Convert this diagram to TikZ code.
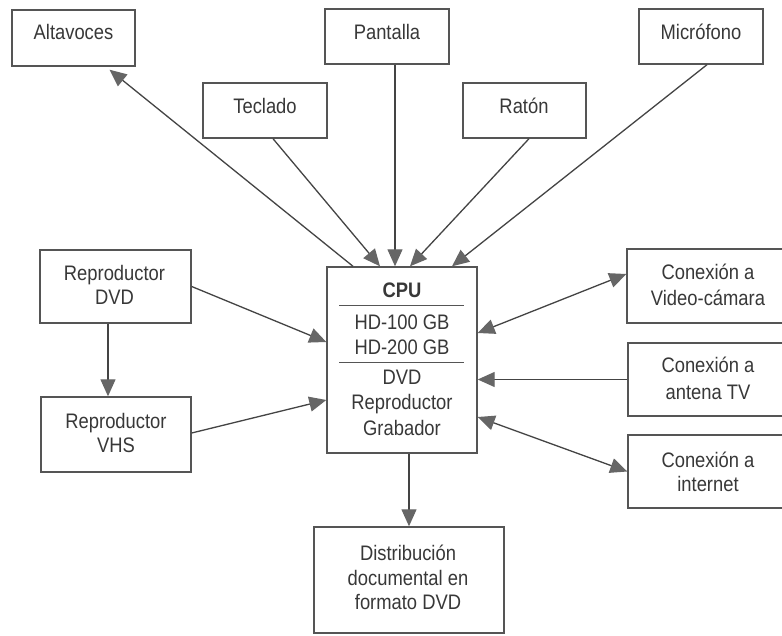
\documentclass[tikz,border=0pt]{standalone}
\usepackage{fontspec}
\setmainfont[FakeStretch=0.875]{Liberation Sans}
\usetikzlibrary{arrows.meta,calc}
\definecolor{boxc}{HTML}{555555}
\definecolor{txtc}{HTML}{383838}
\definecolor{arrc}{HTML}{444444}
\definecolor{headc}{HTML}{666666}
\begin{document}
\begin{tikzpicture}[x=1pt,y=-1pt,
  box/.style={draw=boxc, line width=1.4pt, rectangle, inner sep=0pt},
  txt/.style={text=txtc, font=\fontsize{21}{25}\selectfont, inner sep=0pt, anchor=base},
  rulel/.style={draw=boxc, line width=1.2pt},
  tip/.tip={Triangle[length=17pt,width=15pt,color=headc]},
  arr/.style={draw=arrc, line width=1.3pt, -tip},
  darr/.style={draw=arrc, line width=1.3pt, tip-tip}
]
\clip (0,0) rectangle (782,636);
\fill[white] (0,0) rectangle (782,636);

% boxes
\node[box, minimum width=123pt, minimum height=56pt] (alt) at (73.5,38) {};
\node[box, minimum width=124pt, minimum height=55pt] (pan) at (387,36.5) {};
\node[box, minimum width=124pt, minimum height=55pt] (mic) at (701,36.5) {};
\node[box, minimum width=124pt, minimum height=55pt] (tec) at (265,110.5) {};
\node[box, minimum width=123pt, minimum height=55pt] (rat) at (524.5,110.5) {};
\node[box, minimum width=150pt, minimum height=186pt] (cpu) at (402,360) {};
\node[box, minimum width=151pt, minimum height=73pt] (dvd) at (115.5,286.5) {};
\node[box, minimum width=150pt, minimum height=75pt] (vhs) at (116,434.5) {};
\node[box, minimum width=163pt, minimum height=74pt] (vid) at (708.5,286) {};
\node[box, minimum width=162pt, minimum height=73pt] (ant) at (709,379.5) {};
\node[box, minimum width=162pt, minimum height=73pt] (inet) at (709,471.5) {};
\node[box, minimum width=190pt, minimum height=106pt] (dist) at (409,580) {};

% texts
\node[txt] (alt-t) at (73.5,39.5) {Altavoces};
\node[txt] (pan-t) at (387,39.5) {Pantalla};
\node[txt] (mic-t) at (701,39.5) {Micrófono};
\node[txt] (tec-t) at (265,113.5) {Teclado};
\node[txt] (rat-t) at (524,113.5) {Ratón};
\node[txt] (dvd-t1) at (114.5,280.5) {Reproductor};
\node[txt] (dvd-t2) at (114.5,304.5) {DVD};
\node[txt] (vhs-t1) at (116,428.5) {Reproductor};
\node[txt] (vhs-t2) at (116,452.5) {VHS};
\node[txt] (vid-t1) at (708,279.5) {Conexión a};
\node[txt] (vid-t2) at (708,305.5) {Video-cámara};
\node[txt] (ant-t1) at (708,372.5) {Conexión a};
\node[txt] (ant-t2) at (708,399.5) {antena TV};
\node[txt] (inet-t1) at (708,467.5) {Conexión a};
\node[txt] (inet-t2) at (708,491.5) {internet};
\node[txt] (dist-t1) at (408,560.5) {Distribución};
\node[txt] (dist-t2) at (408,585.5) {documental en};
\node[txt] (dist-t3) at (408,609.5) {formato DVD};
\node[txt, font=\fontsize{21}{25}\selectfont\bfseries] (cpu-t1) at (402,297.5) {CPU};
\node[txt] (cpu-t2) at (402,329.5) {HD-100 GB};
\node[txt] (cpu-t3) at (402,354.5) {HD-200 GB};
\node[txt] (cpu-t4) at (402,384.5) {DVD};
\node[txt] (cpu-t5) at (402,409.5) {Reproductor};
\node[txt] (cpu-t6) at (402,435.5) {Grabador};
\draw[rulel] ($(cpu.north west)+(13,39)$) -- ($(cpu.north east)+(-14,39)$);
\draw[rulel] ($(cpu.north west)+(13,96)$) -- ($(cpu.north east)+(-14,96)$);

% connectors
\draw[arr] ([xshift=-49pt]cpu.north) -- ([xshift=36pt,yshift=-3pt]alt.south);
\draw[arr] ([xshift=8pt]tec.south) -- ([xshift=-22pt]cpu.north);
\draw[arr] ([xshift=8pt]pan.south) -- ([xshift=8pt]pan.south |- cpu.north);
\draw[arr] ([xshift=4.5pt]rat.south) -- ([xshift=8pt]cpu.north);
\draw[arr] ([xshift=6pt]mic.south) -- ([xshift=50pt]cpu.north);
\draw[arr] (dvd.east) -- ([yshift=18pt]cpu.west);
\draw[arr] ([xshift=-7.5pt]dvd.south) -- ([xshift=-7.5pt]dvd.south |- vhs.north);
\draw[arr] ([yshift=1.5pt]vhs.east) -- ([yshift=-40pt]cpu.west);
\draw[darr] ([yshift=27pt]cpu.east) -- ([yshift=12pt]vid.west);
\draw[arr] (ant.west) -- (ant.west -| cpu.east);
\draw[darr] ([yshift=-57pt]cpu.east) -- (inet.west);
\draw[arr] ([xshift=7pt]cpu.south) -- ([xshift=7pt]cpu.south |- dist.north);
\end{tikzpicture}
\end{document}
